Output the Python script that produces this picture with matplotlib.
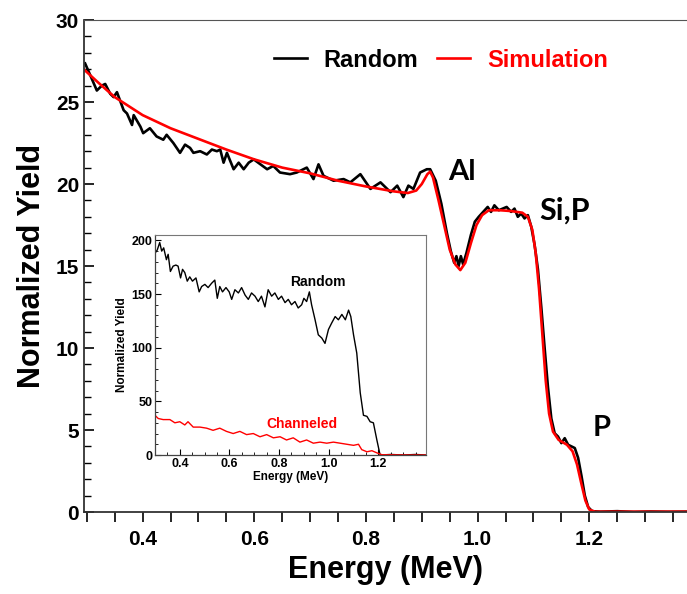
import numpy as np
import matplotlib.pyplot as plt
from matplotlib.ticker import MultipleLocator

# main panel: random spectrum (black) and simulation (red)
rand_e = [0.297, 0.306, 0.318, 0.327, 0.333, 0.342, 0.348, 0.354, 0.366, 0.372,
          0.381, 0.384, 0.396, 0.401, 0.413, 0.425, 0.437, 0.443, 0.455, 0.467,
          0.476, 0.485, 0.491, 0.503, 0.515, 0.524, 0.533, 0.539, 0.545, 0.551,
          0.563, 0.572, 0.581, 0.590, 0.599, 0.611, 0.623, 0.634, 0.646, 0.664,
          0.676, 0.694, 0.706, 0.715, 0.724, 0.742, 0.760, 0.772, 0.790, 0.808,
          0.826, 0.844, 0.856, 0.867, 0.876, 0.885, 0.897, 0.909, 0.915, 0.925,
          0.935, 0.945, 0.952, 0.958, 0.962, 0.966, 0.970, 0.974, 0.980, 0.988,
          0.995, 1.002, 1.010, 1.018, 1.024, 1.030, 1.038, 1.045, 1.052, 1.060,
          1.066, 1.072, 1.078, 1.084, 1.090, 1.096, 1.102, 1.108, 1.114, 1.120,
          1.126, 1.132, 1.138, 1.144, 1.150, 1.156, 1.162, 1.168, 1.174, 1.180,
          1.186, 1.192, 1.198, 1.205, 1.220, 1.250, 1.280, 1.310, 1.340, 1.375]
rand_y = [27.35, 26.65, 25.7, 26.0, 26.1, 25.5, 25.3, 25.6, 24.5, 24.3,
          23.6, 24.2, 23.5, 23.1, 23.4, 22.9, 22.7, 23.0, 22.5, 21.9,
          22.4, 22.2, 21.9, 22.0, 21.8, 22.1, 22.0, 22.1, 21.3, 21.9,
          20.9, 21.3, 20.9, 21.3, 21.5, 21.2, 20.9, 21.1, 20.7, 20.6,
          20.7, 21.0, 20.3, 21.2, 20.5, 20.2, 20.3, 20.1, 20.6, 19.7,
          20.1, 19.5, 19.9, 19.2, 19.9, 19.7, 20.7, 20.9, 20.9, 20.2,
          18.8, 17.0, 15.9, 15.2, 15.6, 15.0, 15.6, 15.1, 15.8, 16.9,
          17.7, 18.0, 18.3, 18.6, 18.3, 18.7, 18.4, 18.5, 18.6, 18.3,
          18.5, 18.0, 18.2, 17.9, 18.1, 17.4, 16.3, 14.8, 12.5, 10.0,
          7.6, 5.7, 4.8, 4.6, 4.2, 4.5, 4.1, 4.0, 3.9, 3.3,
          2.2, 1.0, 0.3, 0.05, 0.02, 0.05, 0.0, 0.03, 0.01, 0.02]

sim_e = [0.296, 0.32, 0.35, 0.40, 0.45, 0.50, 0.55, 0.60, 0.65, 0.70,
         0.75, 0.80, 0.85, 0.875, 0.89, 0.90, 0.91, 0.915, 0.92, 0.93,
         0.94, 0.95, 0.96, 0.969, 0.978, 0.988, 0.998, 1.008, 1.02, 1.04,
         1.06, 1.08, 1.09, 1.098, 1.104, 1.11, 1.116, 1.122, 1.128, 1.135,
         1.145, 1.16, 1.17, 1.178, 1.186, 1.193, 1.20, 1.21, 1.375]
sim_y = [26.95, 26.2, 25.3, 24.2, 23.4, 22.75, 22.1, 21.5, 21.0, 20.65,
         20.2, 19.85, 19.55, 19.45, 19.6, 20.0, 20.6, 20.75, 20.4, 19.0,
         17.5, 16.0, 15.1, 14.75, 15.2, 16.4, 17.5, 18.1, 18.4, 18.4,
         18.35, 18.25, 18.0, 17.2, 15.8, 13.6, 10.8, 8.0, 6.0, 4.9,
         4.4, 4.1, 3.7, 2.9, 1.7, 0.7, 0.15, 0.02, 0.02]

# inset: random and channeled spectra
in_rand_e = [0.300, 0.309, 0.319, 0.327, 0.335, 0.346, 0.353, 0.362, 0.373, 0.384,
             0.393, 0.403, 0.411, 0.420, 0.430, 0.440, 0.451, 0.465, 0.478, 0.488,
             0.501, 0.514, 0.528, 0.541, 0.551, 0.561, 0.572, 0.586, 0.599, 0.609,
             0.622, 0.636, 0.649, 0.663, 0.676, 0.689, 0.703, 0.716, 0.729, 0.743,
             0.756, 0.770, 0.783, 0.797, 0.810, 0.824, 0.837, 0.850, 0.864, 0.877,
             0.891, 0.900, 0.911, 0.922, 0.931, 0.945, 0.958, 0.972, 0.985, 0.999,
             1.012, 1.026, 1.039, 1.053, 1.067, 1.080, 1.089, 1.100, 1.113, 1.127,
             1.140, 1.154, 1.167, 1.180, 1.194, 1.207, 1.250, 1.300, 1.350, 1.390]
in_rand_y = [188, 191, 198, 190, 193, 182, 187, 171, 176, 177,
             176, 165, 173, 170, 162, 166, 162, 165, 152, 157,
             159, 156, 160, 163, 146, 157, 152, 156, 152, 145,
             154, 151, 156, 149, 145, 151, 148, 143, 148, 138,
             154, 148, 151, 145, 148, 142, 145, 140, 143, 137,
             140, 146, 143, 152, 140, 126, 112, 109, 104, 117,
             123, 129, 126, 131, 126, 135, 129, 112, 95, 58,
             37, 36, 31, 30, 14, 0, 0.5, 0, 0.5, 0]

in_chan_e = [0.300, 0.313, 0.333, 0.360, 0.380, 0.400, 0.420, 0.433, 0.454, 0.481,
             0.508, 0.534, 0.561, 0.588, 0.615, 0.642, 0.669, 0.696, 0.723, 0.750,
             0.777, 0.804, 0.830, 0.857, 0.884, 0.911, 0.938, 0.965, 0.992, 1.019,
             1.046, 1.073, 1.100, 1.120, 1.133, 1.154, 1.174, 1.194, 1.214, 1.300, 1.390]
in_chan_y = [37, 34, 33, 33, 30, 31, 28, 31, 26, 26,
             25, 23, 25, 22, 20, 22, 19, 20, 17, 19,
             16, 17, 14, 16, 12, 14, 11, 12, 11, 12,
             11, 10, 9, 10, 5, 3, 4, 2, 0.3, 0, 0]

plt.rcParams['font.family'] = ['Liberation Sans', 'DejaVu Sans']
plt.rcParams['font.weight'] = 'bold'

fig = plt.figure(figsize=(6.87, 5.94), dpi=100)
ax = fig.add_axes([84 / 687, 1 - 512 / 594, 1 - 84 / 687, 492 / 594])

ax.plot(rand_e, rand_y, color='black', lw=1.9, label='Random')
ax.plot(sim_e, sim_y, color='red', lw=1.9, label='Simulation')

ax.set_xlim(0.295, 1.375)
ax.set_ylim(0, 30)
ax.xaxis.set_major_locator(MultipleLocator(0.2))
ax.xaxis.set_minor_locator(MultipleLocator(0.05))
ax.yaxis.set_major_locator(MultipleLocator(5))
ax.yaxis.set_minor_locator(MultipleLocator(1))
ax.tick_params(axis='x', which='both', direction='out', length=7, width=1.2, labelsize=15, pad=6)
ax.tick_params(axis='y', which='major', direction='in', length=7, width=1.2, labelsize=15)
ax.tick_params(axis='y', which='minor', direction='in', length=5, width=1.0)
for lab in ax.get_xticklabels() + ax.get_yticklabels():
    lab.set_fontweight('bold')
ax.spines['right'].set_visible(False)
ax.spines['top'].set_color('#555555')
ax.spines['left'].set_color('#333333')
ax.spines['bottom'].set_color('#333333')
ax.spines['left'].set_linewidth(1.3)
ax.spines['bottom'].set_linewidth(1.3)

ax.set_xlabel('Energy (MeV)', fontsize=22, fontweight='bold', labelpad=4)
ax.set_ylabel('Normalized Yield', fontsize=22, fontweight='bold', labelpad=6)

leg = ax.legend(loc='upper left', bbox_to_anchor=(0.28, 0.985), ncol=2, frameon=False,
                fontsize=17, handlelength=1.4, columnspacing=0.8, handletextpad=0.7)
for t in leg.get_texts():
    t.set_fontweight('bold')
leg.get_texts()[1].set_color('red')

ax.text(0.947, 20.25, 'Al', fontsize=21, fontweight='bold', family='Lato')
ax.text(1.111, 17.85, 'Si,P', fontsize=22, fontweight='bold', family='Lato')
ax.text(1.206, 4.65, 'P', fontsize=21, fontweight='bold', family='Lato')

# inset
ins = fig.add_axes([155 / 687, 1 - 455 / 594, 271 / 687, 220 / 594])
ins.plot(in_rand_e, in_rand_y, color='black', lw=1.0)
ins.plot(in_chan_e, in_chan_y, color='red', lw=1.0)
ins.set_xlim(0.3, 1.392)
ins.set_ylim(0, 205)
ins.xaxis.set_major_locator(MultipleLocator(0.2))
ins.xaxis.set_minor_locator(MultipleLocator(0.05))
ins.yaxis.set_major_locator(MultipleLocator(50))
ins.yaxis.set_minor_locator(MultipleLocator(10))
ins.tick_params(which='major', direction='in', length=4, width=0.8, labelsize=9, pad=2)
ins.tick_params(which='minor', direction='in', length=2.5, width=0.6)
ins.tick_params(top=False, right=False)
for lab in ins.get_xticklabels() + ins.get_yticklabels():
    lab.set_fontweight('bold')
for s in ['top', 'right']:
    ins.spines[s].set_color('#777777')
    ins.spines[s].set_linewidth(0.8)
for s in ['left', 'bottom']:
    ins.spines[s].set_color('#444444')
    ins.spines[s].set_linewidth(0.9)
ins.set_xlabel('Energy (MeV)', fontsize=8.5, fontweight='bold', labelpad=1)
ins.set_ylabel('Normalized Yield', fontsize=8.5, fontweight='bold', labelpad=2)
ins.text(0.955, 161, 'Random', fontsize=10, fontweight='bold', ha='center', va='center')
ins.text(0.892, 29, 'Channeled', fontsize=10, fontweight='bold', ha='center', va='center', color='red')

fig.savefig('out.png', dpi=100)
